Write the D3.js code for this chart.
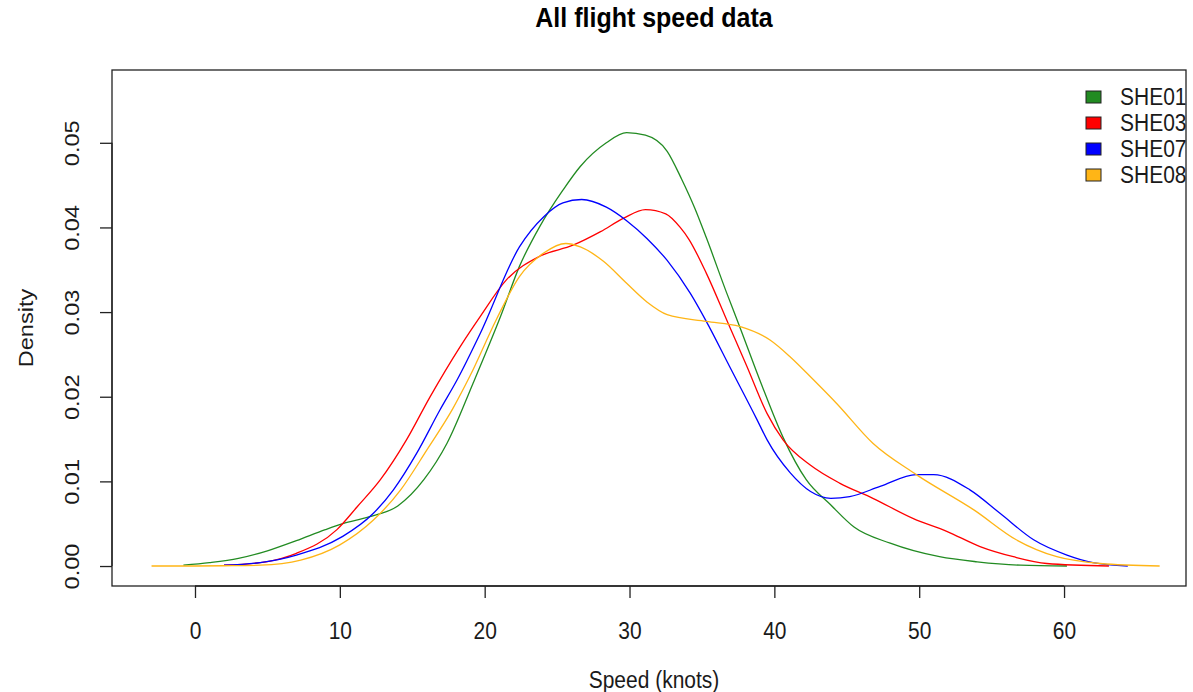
<!DOCTYPE html>
<html>
<head>
<meta charset="utf-8">
<script src="https://cdn.jsdelivr.net/npm/d3@7"></script>
<style>
  body { margin: 0; background: #fff; }
  svg { display: block; font-family: "Liberation Sans", Arial, sans-serif; }
</style>
</head>
<body>
<div id="chart"></div>
<script>
// series (speed in knots, density)
const seriesNames = ["SHE01", "SHE03", "SHE07", "SHE08"];
const seriesColours = ["#228B22", "#FF0000", "#0000FF", "#FFB516"];

const speedSHE01 = [-0.8, 1, 3, 5, 7, 9, 10.2, 12, 14, 15.8, 17.4, 19.2, 21.1, 22.4, 23.8, 25.4, 26.6, 28.4, 29.8, 31.1, 32.6, 33.6, 34.5, 35.3, 36.7, 37.6, 39.1, 40.6, 42.2, 43.9, 45.5, 48.0, 51.4, 54, 57, 60.2];
const densitySHE01 = [0.0001, 0.0004, 0.0009, 0.0018, 0.0030, 0.0043, 0.0050, 0.0058, 0.0071, 0.0102, 0.0145, 0.0216, 0.0295, 0.0354, 0.0401, 0.0444, 0.0472, 0.0500, 0.0512, 0.0509, 0.0490, 0.0457, 0.0423, 0.0388, 0.0323, 0.0283, 0.0215, 0.0152, 0.0102, 0.0072, 0.0046, 0.0027, 0.0011, 0.0005, 0.0001, 0.0];

const speedSHE03 = [2.0, 4.9, 7.0, 9.8, 11.2, 12.8, 14.6, 16.2, 18.3, 19.7, 21.5, 23.8, 26.1, 28.0, 29.6, 31.1, 32.5, 33.5, 34.1, 35.3, 36.8, 38.1, 39.5, 40.6, 42.5, 44.5, 46.8, 49.6, 51.9, 54.2, 56.5, 58.8, 63.1];
const densitySHE03 = [0.0001, 0.0005, 0.0015, 0.0043, 0.0070, 0.0102, 0.0149, 0.0199, 0.0259, 0.0295, 0.0338, 0.0366, 0.0379, 0.0395, 0.0411, 0.0421, 0.0416, 0.0400, 0.0386, 0.0346, 0.0287, 0.0236, 0.0180, 0.0149, 0.0119, 0.0098, 0.0080, 0.0056, 0.0041, 0.0023, 0.0011, 0.0003, 0.0];

const speedSHE07 = [2.0, 4.5, 7.0, 10.2, 12.3, 13.7, 15.3, 16.9, 18.1, 19.7, 22.4, 24.1, 25.4, 26.7, 28.4, 29.8, 31.2, 32.6, 34.2, 35.3, 36.9, 38.8, 39.5, 41.1, 42.5, 43.9, 45.2, 47.3, 49.8, 51.0, 53.5, 55.6, 57.9, 60.2, 62.0, 64.4];
const densitySHE07 = [0.0001, 0.0004, 0.0013, 0.0035, 0.0062, 0.0090, 0.0133, 0.0184, 0.0220, 0.0275, 0.0377, 0.0413, 0.0429, 0.0433, 0.0424, 0.0408, 0.0387, 0.0361, 0.0322, 0.0289, 0.0236, 0.0173, 0.0149, 0.0110, 0.0088, 0.0080, 0.0082, 0.0094, 0.0108, 0.0108, 0.0090, 0.0062, 0.0031, 0.0013, 0.0004, 0.0];

const speedSHE08 = [-3.0, 0, 2, 4.5, 7.3, 10.0, 12.3, 14.2, 16.0, 17.8, 19.0, 20.8, 22.4, 24.1, 25.6, 26.6, 28.2, 29.8, 31.2, 32.6, 35.3, 37.6, 39.7, 41.1, 42.7, 44.3, 46.8, 49.8, 53.8, 56.7, 59.5, 62.5, 66.6];
const densitySHE08 = [0.0, 0.0, 0.00003, 0.0001, 0.0007, 0.0025, 0.0054, 0.0090, 0.0137, 0.0186, 0.0225, 0.0291, 0.0342, 0.0370, 0.0381, 0.0377, 0.0360, 0.0334, 0.0312, 0.0297, 0.0289, 0.0283, 0.0267, 0.0247, 0.0220, 0.0192, 0.0145, 0.0108, 0.0066, 0.0031, 0.0011, 0.0003, 0.0];

const xTicks = [0, 10, 20, 30, 40, 50, 60];
const yTicks = [0, 0.01, 0.02, 0.03, 0.04, 0.05];
const xLimits = [-5.73, 68.42];
const yLimits = [-0.00236, 0.0586];

const speeds = [speedSHE01, speedSHE03, speedSHE07, speedSHE08];
const densities = [densitySHE01, densitySHE03, densitySHE07, densitySHE08];

const series = seriesNames.map((name, i) => ({
  name,
  colour: seriesColours[i],
  points: speeds[i].map((s, j) => ({ speed: s, density: densities[i][j] }))
}));

const width = 1193,
  height = 692,
  margin = { top: 70, right: 7, bottom: 106, left: 112 },
  chartWidth = width - margin.left - margin.right,
  chartHeight = height - margin.top - margin.bottom,
  tickLength = 12,
  axisColour = "#222",
  textColour = "#1a1a1a",
  fontSize = 21,
  stretch = 1.12, // glyphs in the picture are a bit taller than wide
  labelCentre = 654;

const xScale = d3.scaleLinear().domain(xLimits).range([0, chartWidth]);
const yScale = d3.scaleLinear().domain(yLimits).range([chartHeight, 0]);

const svg = d3
  .select("#chart")
  .append("svg")
  .attr("width", width)
  .attr("height", height);

svg.append("rect").attr("width", width).attr("height", height).attr("fill", "#fff");

// place a text at (x, y), optionally rotated, stretched along the glyph height
function placeText(sel, x, y, rotated) {
  sel
    .attr("x", 0)
    .attr("y", 0)
    .attr("dy", null)
    .attr("fill", textColour)
    .style("font-size", `${fontSize}px`)
    .style("font-family", "'Liberation Sans', Arial, sans-serif")
    .attr(
      "transform",
      rotated
        ? `translate(${x}, ${y}) rotate(-90) scale(${stretch}, 1)`
        : `translate(${x}, ${y}) scale(1, ${stretch})`
    );
  return sel;
}

svg
  .append("text")
  .attr("text-anchor", "middle")
  .call(placeText, labelCentre, 27, false)
  .style("font-size", "25px")
  .style("font-weight", "bold")
  .attr("fill", "#000")
  .text("All flight speed data");

const chart = svg
  .append("g")
  .attr("transform", `translate(${margin.left}, ${margin.top})`);

const xAxis = chart
  .append("g")
  .attr("transform", `translate(0, ${chartHeight})`)
  .call(
    d3.axisBottom(xScale)
      .tickValues(xTicks)
      .tickSize(tickLength)
      .tickSizeOuter(0)
  );

const yAxis = chart.append("g").call(
  d3.axisLeft(yScale)
    .tickValues(yTicks)
    .tickSize(tickLength)
    .tickFormat(d3.format(".2f"))
    .tickSizeOuter(0)
);

[xAxis, yAxis].forEach(ax => {
  ax.select(".domain").remove();
  ax.selectAll(".tick line").attr("stroke", axisColour).attr("stroke-width", 1.3);
});

xAxis
  .selectAll(".tick text")
  .attr("text-anchor", "middle")
  .each(function() {
    d3.select(this).call(placeText, 0, 53, false);
  });

yAxis
  .selectAll(".tick text")
  .attr("text-anchor", "middle")
  .each(function() {
    d3.select(this).call(placeText, -33, 0, true);
  });

// R style axis lines from first to last tick
chart
  .append("path")
  .attr("fill", "none")
  .attr("stroke", axisColour)
  .attr("stroke-width", 1.3)
  .attr("d", `M${xScale(xTicks[0])},${chartHeight}H${xScale(xTicks[xTicks.length - 1])}`);

chart
  .append("path")
  .attr("fill", "none")
  .attr("stroke", axisColour)
  .attr("stroke-width", 1.3)
  .attr("d", `M0,${yScale(yTicks[0])}V${yScale(yTicks[yTicks.length - 1])}`);

const line = d3
  .line()
  .x(d => xScale(d.speed))
  .y(d => yScale(d.density))
  .curve(d3.curveMonotoneX);

chart
  .selectAll(".density")
  .data(series)
  .enter()
  .append("path")
  .attr("class", "density")
  .attr("fill", "none")
  .attr("stroke", d => d.colour)
  .attr("stroke-width", 1.3)
  .attr("d", d => line(d.points));

// plot frame
chart
  .append("rect")
  .attr("width", chartWidth)
  .attr("height", chartHeight)
  .attr("fill", "none")
  .attr("stroke", axisColour)
  .attr("stroke-width", 1.3);

svg
  .append("text")
  .attr("text-anchor", "middle")
  .call(placeText, labelCentre, 688, false)
  .text("Speed (knots)");

svg
  .append("text")
  .attr("text-anchor", "middle")
  .call(placeText, 33, margin.top + chartHeight / 2, true)
  .text("Density");

// legend, top right, no border
const legend = svg
  .append("g")
  .selectAll(".legend")
  .data(series)
  .enter()
  .append("g")
  .attr("class", "legend")
  .attr("transform", (d, i) => `translate(1086, ${97 + i * 26})`);

legend
  .append("rect")
  .attr("x", 0)
  .attr("y", -6)
  .attr("width", 15)
  .attr("height", 12)
  .attr("fill", d => d.colour)
  .attr("stroke", "#222")
  .attr("stroke-width", 1);

legend
  .append("text")
  .call(placeText, 34, 8, false)
  .text(d => d.name);
</script>
</body>
</html>
